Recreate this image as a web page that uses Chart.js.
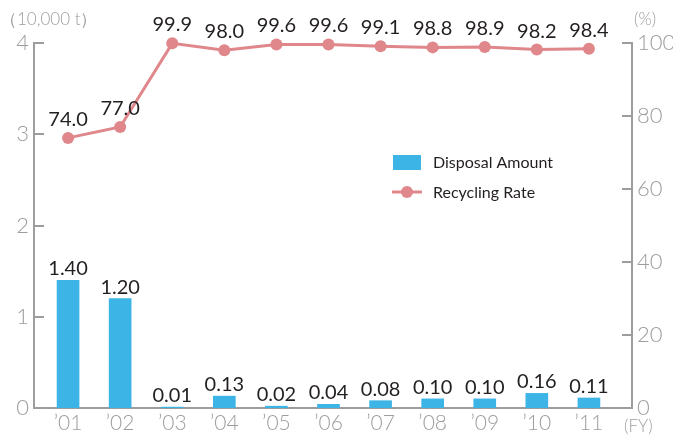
<!DOCTYPE html>
<html>
<head>
<meta charset="utf-8">
<script src="https://cdn.jsdelivr.net/npm/chart.js@4"></script>
<style>
  html, body { margin:0; padding:0; background:#ffffff; }
  #wrap { width:673px; height:435px; }
</style>
</head>
<body>
<div id="wrap"><canvas id="chart" width="673" height="435"></canvas></div>
<script>
// ==========================================
// Disposal amount / recycling rate chart
// ==========================================

const years = ["’01","’02","’03","’04","’05","’06","’07","’08","’09","’10","’11"];
const disposalAmount = [1.40, 1.20, 0.01, 0.13, 0.02, 0.04, 0.08, 0.10, 0.10, 0.16, 0.11];
const recyclingRate = [74.0, 77.0, 99.9, 98.0, 99.6, 99.6, 99.1, 98.8, 98.9, 98.2, 98.4];
const leftTicks = [0, 1, 2, 3, 4];
const rightTicks = [0, 20, 40, 60, 80, 100];

const FONT = "Lato, 'Open Sans', sans-serif";
const AXIS_GRAY = "#9d9d9f";
const TEXT_DARK = "#231f20";
const BAR_BLUE = "#3cb4e6";
const LINE_PINK = "#e0878b";

// value labels above bars and points
const valueLabels = {
    id:"valueLabels",
    afterDatasetsDraw(chart){
        const ctx = chart.ctx;
        ctx.save();
        ctx.font = "20px " + FONT;
        ctx.fillStyle = TEXT_DARK;
        ctx.textAlign = "center";
        ctx.textBaseline = "alphabetic";
        chart.data.datasets.forEach((ds, di) => {
            const meta = chart.getDatasetMeta(di);
            meta.data.forEach((el, i) => {
                const v = ds.data[i].y;
                const gap = ds.type === "line" ? 12 : 5;
                ctx.fillText(v.toFixed(ds.type === "line" ? 1 : 2), el.x, el.y - gap);
            });
        });
        ctx.restore();
    }
};

// inward tick marks, unit captions and in-plot legend
const extras = {
    id:"extras",
    afterDraw(chart){
        const ctx = chart.ctx;
        const area = chart.chartArea;
        const yL = chart.scales.yL;
        const yR = chart.scales.yR;
        ctx.save();

        ctx.fillStyle = AXIS_GRAY;
        leftTicks.forEach(v => {
            const py = Math.round(yL.getPixelForValue(v));
            ctx.fillRect(area.left, py - 1, 10, 2);
        });
        rightTicks.forEach(v => {
            const py = Math.round(yR.getPixelForValue(v));
            ctx.fillRect(area.right - 10, py - 1, 10, 2);
        });

        ctx.font = "300 17px " + FONT;
        ctx.fillStyle = AXIS_GRAY;
        ctx.textBaseline = "middle";
        ctx.textAlign = "left";
        ctx.fillText("（10,000 t）", 0, 20);
        ctx.fillText("(%)", 634, 20);
        ctx.fillText("(FY)", 624, 427);

        // legend
        ctx.fillStyle = BAR_BLUE;
        ctx.fillRect(393, 155, 28, 15);
        ctx.strokeStyle = LINE_PINK;
        ctx.lineWidth = 3;
        ctx.beginPath();
        ctx.moveTo(392, 192);
        ctx.lineTo(422, 192);
        ctx.stroke();
        ctx.fillStyle = LINE_PINK;
        ctx.beginPath();
        ctx.arc(407, 192, 6, 0, Math.PI * 2);
        ctx.fill();

        ctx.font = "16px " + FONT;
        ctx.fillStyle = TEXT_DARK;
        ctx.fillText("Disposal Amount", 433, 163);
        ctx.fillText("Recycling Rate", 433, 193);
        ctx.restore();
    }
};

new Chart(

    document.getElementById("chart"),

    {
        data:{
            datasets:[
                {
                    type:"line",
                    label:"Recycling Rate",
                    yAxisID:"yR",
                    data:recyclingRate.map((v, i) => ({x:i + 1, y:v})),
                    borderColor:LINE_PINK,
                    backgroundColor:LINE_PINK,
                    borderWidth:3,
                    pointRadius:6,
                    pointHoverRadius:6,
                    pointBorderWidth:0,
                    tension:0,
                    clip:false,
                    order:0
                },
                {
                    type:"bar",
                    label:"Disposal Amount",
                    yAxisID:"yL",
                    data:disposalAmount.map((v, i) => ({x:i + 1, y:v})),
                    backgroundColor:BAR_BLUE,
                    barThickness:22,
                    order:1
                }
            ]
        },

        options:{
            responsive:false,
            animation:false,
            layout:{
                padding:{ top:43, left:0, right:0, bottom:0 }
            },
            plugins:{
                legend:{ display:false },
                tooltip:{ enabled:false }
            },
            scales:{
                x:{
                    type:"linear",
                    offset:false,
                    min:0.346,
                    max:11.827,
                    afterBuildTicks(scale){
                        scale.ticks = years.map((y, i) => ({value:i + 1}));
                    },
                    afterFit(scale){ scale.height = 27; },
                    ticks:{
                        autoSkip:false,
                        maxRotation:0,
                        padding:3,
                        color:AXIS_GRAY,
                        font:{ family:FONT, size:21, weight:"300" },
                        callback:(v) => years[Math.round(v) - 1]
                    },
                    grid:{ display:false, drawTicks:false },
                    border:{ display:true, color:AXIS_GRAY, width:2 }
                },
                yL:{
                    position:"left",
                    min:0,
                    max:4,
                    afterBuildTicks(scale){
                        scale.ticks = leftTicks.map(v => ({value:v}));
                    },
                    afterFit(scale){ scale.width = 34; },
                    ticks:{
                        padding:5,
                        color:AXIS_GRAY,
                        font:{ family:FONT, size:22, weight:"300" }
                    },
                    grid:{ display:false, drawTicks:false },
                    border:{ display:true, color:AXIS_GRAY, width:2 }
                },
                yR:{
                    position:"right",
                    min:0,
                    max:100,
                    afterBuildTicks(scale){
                        scale.ticks = rightTicks.map(v => ({value:v}));
                    },
                    afterFit(scale){ scale.width = 41; },
                    ticks:{
                        padding:5,
                        color:AXIS_GRAY,
                        font:{ family:FONT, size:22, weight:"300" }
                    },
                    grid:{ display:false, drawTicks:false },
                    border:{ display:true, color:AXIS_GRAY, width:2 }
                }
            }
        },

        plugins:[valueLabels, extras]
    }

);
</script>
</body>
</html>
